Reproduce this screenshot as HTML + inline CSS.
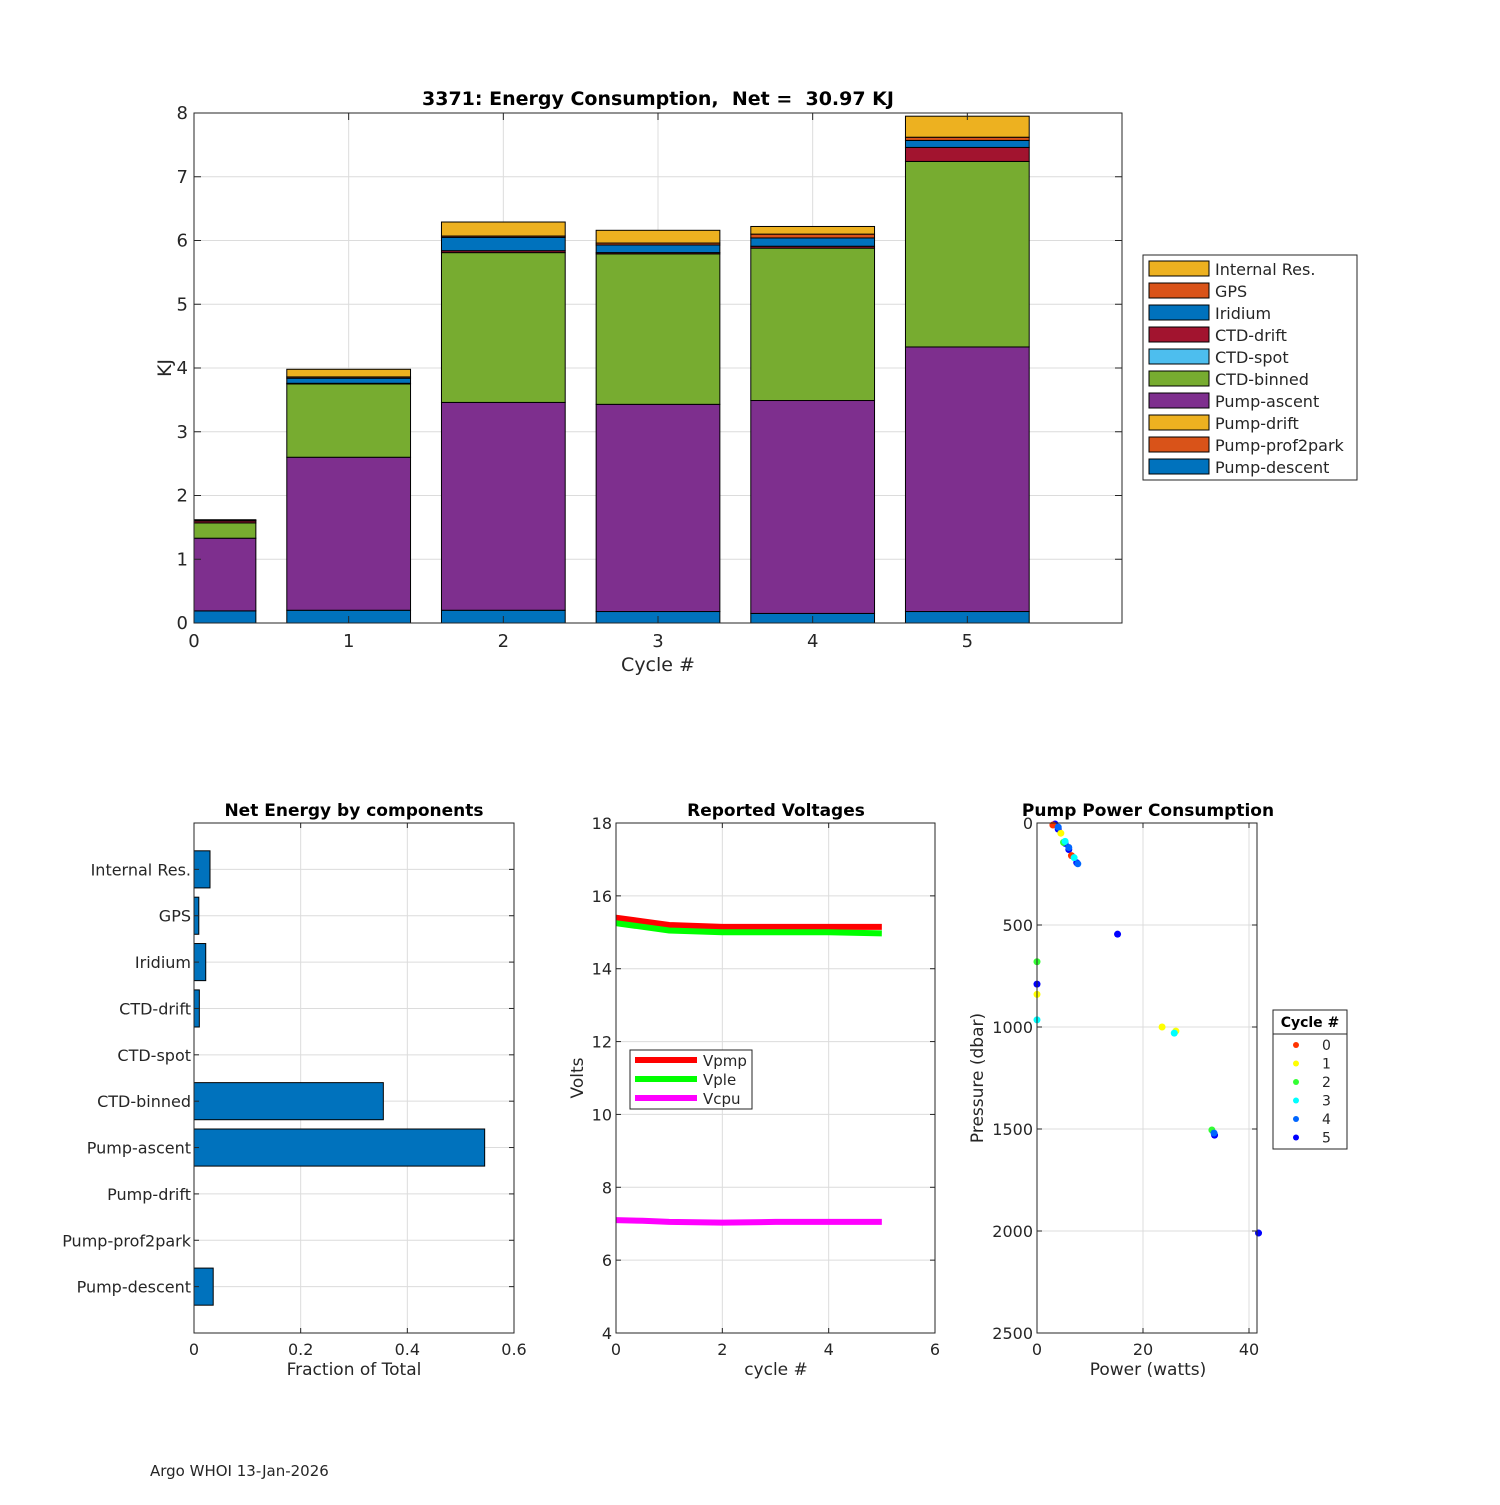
<!DOCTYPE html>
<html><head><meta charset="utf-8"><style>
body{margin:0;background:#fff}
svg text{font-family:"DejaVu Sans","Liberation Sans",sans-serif;fill:#262626;white-space:pre}
</style></head><body>
<svg id="s" width="1500" height="1500" viewBox="0 0 1500 1500" xmlns="http://www.w3.org/2000/svg">
<rect width="1500" height="1500" fill="#fff"/>
<g id="top"></g>
<g id="bl"></g>
<g id="bm"></g>
<g id="br"></g>
<text x="150" y="1476" font-size="15">Argo WHOI 13-Jan-2026</text>
</svg>
<script>
const components=["Pump-descent","Pump-prof2park","Pump-drift","Pump-ascent","CTD-binned","CTD-spot","CTD-drift","Iridium","GPS","Internal Res."];
const compColors=["#0072bd","#d95319","#edb120","#7e2f8e","#77ac30","#4dbeee","#a2142f","#0072bd","#d95319","#edb120"];
const cycles=[0,1,2,3,4,5];
const pumpDescent=[0.19,0.2,0.2,0.18,0.15,0.18];
const pumpProf2park=[0,0,0,0,0,0];
const pumpDrift=[0,0,0,0,0,0];
const pumpAscent=[1.14,2.4,3.26,3.25,3.34,4.15];
const ctdBinned=[0.24,1.15,2.35,2.36,2.39,2.91];
const ctdSpot=[0,0,0,0,0,0];
const ctdDrift=[0.03,0.01,0.03,0.02,0.03,0.22];
const iridium=[0.0,0.08,0.21,0.12,0.13,0.11];
const gps=[0.01,0.02,0.02,0.03,0.06,0.05];
const internalRes=[0.01,0.12,0.22,0.20,0.12,0.33];
const netFraction=[0.036,0,0,0.545,0.355,0,0.01,0.022,0.009,0.03];
const voltX=[0,0.5,1,2,3,4,5];
const vpmp=[15.4,15.3,15.2,15.15,15.15,15.15,15.15];
const vple=[15.25,15.15,15.05,15.0,15.0,15.0,14.97];
const vcpu=[7.1,7.08,7.05,7.03,7.05,7.05,7.05];
const pumpCycle=[5,5,5,5,5,5,5,5,5,0,0,1,1,1,1,2,2,2,3,3,3,3,4,4,4,4];
const pumpPower=[3.4,4,5.3,6,7.5,15.2,0,33.5,41.8,3,6.5,4.5,0,23.6,26.2,5,0,33,5.3,7,0,25.9,4,6,7.7,33.4];
const pumpPressure=[5,30,100,130,195,545,790,1530,2010,10,160,50,840,1000,1020,95,680,1505,90,170,965,1030,20,120,200,1520];
const cycleColors=["#ff3300","#ffff00","#33ff33","#00ffff","#0066ff","#0000ff"];

const NS="http://www.w3.org/2000/svg";
function mk(p,t,a,txt){const e=document.createElementNS(NS,t);for(const k in a)e.setAttribute(k,a[k]);if(txt!==undefined)e.textContent=txt;p.appendChild(e);return e;}

(function(){
const g=document.getElementById('top');
const L=194,R=1122,T=113,B=623;
const xs=v=>L+v*(R-L)/6, ys=v=>B-v*(B-T)/8;
for(let i=1;i<6;i++){const l=mk(g,'line',{x1:xs(i),x2:xs(i),y1:T,y2:B,stroke:'#dcdcdc'});}
for(let i=1;i<8;i++){const l=mk(g,'line',{x1:L,x2:R,y1:ys(i),y2:ys(i),stroke:'#dcdcdc'});}
const series=[pumpDescent,pumpProf2park,pumpDrift,pumpAscent,ctdBinned,ctdSpot,ctdDrift,iridium,gps,internalRes];
cycles.forEach((c,ci)=>{let acc=0;
 series.forEach((s,si)=>{const v=s[ci];let x0=Math.max(xs(c-0.4),L),x1=xs(c+0.4);
  if(v>0){const r=mk(g,'rect',{x:x0,y:ys(acc+v),width:x1-x0,height:ys(acc)-ys(acc+v),fill:compColors[si],stroke:'#000','stroke-width':1});
  
  }
  acc+=v;});});
mk(g,'rect',{x:L,y:T,width:R-L,height:B-T,fill:'none',stroke:'#262626'});
for(let i=0;i<6;i++){mk(g,'line',{x1:xs(i),x2:xs(i),y1:B,y2:B-7,stroke:'#262626'});mk(g,'line',{x1:xs(i),x2:xs(i),y1:T,y2:T+7,stroke:'#262626'});
 const t=mk(g,'text',{x:xs(i),y:B+24,'font-size':18,'text-anchor':'middle'},String(i));}
for(let i=0;i<=8;i++){mk(g,'line',{x1:L,x2:L+7,y1:ys(i),y2:ys(i),stroke:'#262626'});mk(g,'line',{x1:R,x2:R-7,y1:ys(i),y2:ys(i),stroke:'#262626'});
 const t=mk(g,'text',{x:L-6,y:ys(i)+6,'font-size':18,'text-anchor':'end'},String(i));}
let t=mk(g,'text',{x:658,y:105,'font-size':19,'font-weight':'bold','text-anchor':'middle',style:'fill:#000'},'3371: Energy Consumption,  Net =  30.97 KJ');
t=mk(g,'text',{x:658,y:671,'font-size':19,'text-anchor':'middle'},'Cycle #');
t=mk(g,'text',{x:0,y:0,'font-size':19,'text-anchor':'middle',transform:'translate(171,368) rotate(-90)'},'KJ');
const lg=mk(g,'g',{});
mk(lg,'rect',{x:1143,y:255,width:214,height:225,fill:'#fff',stroke:'#262626'});
for(let k=0;k<10;k++){const si=9-k,y=261+k*22;
 const e=mk(lg,'g',{});
 mk(e,'rect',{x:1149,y:y,width:60,height:15,fill:compColors[si],stroke:'#000'});
 mk(e,'text',{x:1215,y:y+14,'font-size':16},components[si]);}
})();

(function(){
const g=document.getElementById('bl');
const L=194,R=514,T=823,B=1333;
const xs=v=>L+v*(R-L)/0.6, ys=v=>B-v*(B-T)/11;
[0.2,0.4].forEach(v=>mk(g,'line',{x1:xs(v),x2:xs(v),y1:T,y2:B,stroke:'#dcdcdc'}));
for(let i=1;i<=10;i++)mk(g,'line',{x1:L,x2:R,y1:ys(i),y2:ys(i),stroke:'#dcdcdc'});
components.forEach((c,i)=>{const v=netFraction[i];
 if(v>0){const r=mk(g,'rect',{x:L,y:ys(i+1+0.4),width:xs(v)-L,height:ys(i+1-0.4)-ys(i+1+0.4),fill:'#0072bd',stroke:'#000'});
 }
 const t=mk(g,'text',{x:L-3,y:ys(i+1)+6,'font-size':16,'text-anchor':'end'},c);
 mk(g,'line',{x1:L,x2:L+5,y1:ys(i+1),y2:ys(i+1),stroke:'#262626'});mk(g,'line',{x1:R,x2:R-5,y1:ys(i+1),y2:ys(i+1),stroke:'#262626'});});
mk(g,'rect',{x:L,y:T,width:R-L,height:B-T,fill:'none',stroke:'#262626'});
[0,0.2,0.4,0.6].forEach(v=>{mk(g,'line',{x1:xs(v),x2:xs(v),y1:B,y2:B-5,stroke:'#262626'});mk(g,'line',{x1:xs(v),x2:xs(v),y1:T,y2:T+5,stroke:'#262626'});
 const t=mk(g,'text',{x:xs(v),y:B+22,'font-size':16,'text-anchor':'middle'},String(v));});
let t=mk(g,'text',{x:354,y:816,'font-size':17,'font-weight':'bold','text-anchor':'middle',style:'fill:#000'},'Net Energy by components');
t=mk(g,'text',{x:354,y:1375,'font-size':17,'text-anchor':'middle'},'Fraction of Total');
})();

(function(){
const g=document.getElementById('bm');
const L=616,R=935,T=823,B=1333;
const xs=v=>L+v*(R-L)/6, ys=v=>B-(v-4)*(B-T)/14;
[2,4].forEach(v=>mk(g,'line',{x1:xs(v),x2:xs(v),y1:T,y2:B,stroke:'#dcdcdc'}));
[6,8,10,12,14,16].forEach(v=>mk(g,'line',{x1:L,x2:R,y1:ys(v),y2:ys(v),stroke:'#dcdcdc'}));
const S=[[vpmp,'#ff0000','line-vpmp'],[vple,'#00ff00','line-vple'],[vcpu,'#ff00ff','line-vcpu']];
S.forEach(([arr,col,nm])=>{const p=mk(g,'polyline',{points:voltX.map((x,i)=>xs(x)+','+ys(arr[i])).join(' '),fill:'none',stroke:col,'stroke-width':6});
 });
mk(g,'rect',{x:L,y:T,width:R-L,height:B-T,fill:'none',stroke:'#262626'});
[0,2,4,6].forEach(v=>{mk(g,'line',{x1:xs(v),x2:xs(v),y1:B,y2:B-5,stroke:'#262626'});mk(g,'line',{x1:xs(v),x2:xs(v),y1:T,y2:T+5,stroke:'#262626'});
 const t=mk(g,'text',{x:xs(v),y:B+22,'font-size':16,'text-anchor':'middle'},String(v));});
[4,6,8,10,12,14,16,18].forEach(v=>{mk(g,'line',{x1:L,x2:L+5,y1:ys(v),y2:ys(v),stroke:'#262626'});mk(g,'line',{x1:R,x2:R-5,y1:ys(v),y2:ys(v),stroke:'#262626'});
 const t=mk(g,'text',{x:L-4,y:ys(v)+6,'font-size':16,'text-anchor':'end'},String(v));});
let t=mk(g,'text',{x:776,y:816,'font-size':17,'font-weight':'bold','text-anchor':'middle',style:'fill:#000'},'Reported Voltages');
t=mk(g,'text',{x:776,y:1375,'font-size':17,'text-anchor':'middle'},'cycle #');
t=mk(g,'text',{x:0,y:0,'font-size':17,'text-anchor':'middle',transform:'translate(583,1078) rotate(-90)'},'Volts');
const lg=mk(g,'g',{});
mk(lg,'rect',{x:630,y:1050,width:122,height:59,fill:'#fff',stroke:'#262626'});
['Vpmp','Vple','Vcpu'].forEach((n,i)=>{const e=mk(lg,'g',{});
 mk(e,'line',{x1:635,x2:697,y1:1060+i*19,y2:1060+i*19,stroke:S[i][1],'stroke-width':6});
 mk(e,'text',{x:703,y:1066+i*19,'font-size':15},n);});
})();

(function(){
const g=document.getElementById('br');
const L=1037,R=1257,T=823,B=1333;
const xs=v=>L+v*5.3, ys=v=>T+v*(B-T)/2500;
[20,40].forEach(v=>mk(g,'line',{x1:xs(v),x2:xs(v),y1:T,y2:B,stroke:'#dcdcdc'}));
[500,1000,1500,2000].forEach(v=>mk(g,'line',{x1:L,x2:R,y1:ys(v),y2:ys(v),stroke:'#dcdcdc'}));
pumpPower.forEach((p,i)=>{const c=mk(g,'circle',{cx:xs(p),cy:ys(pumpPressure[i]),r:3.5,fill:cycleColors[pumpCycle[i]]});
 });
mk(g,'rect',{x:L,y:T,width:R-L,height:B-T,fill:'none',stroke:'#262626'});
[0,20,40].forEach(v=>{mk(g,'line',{x1:xs(v),x2:xs(v),y1:B,y2:B-5,stroke:'#262626'});mk(g,'line',{x1:xs(v),x2:xs(v),y1:T,y2:T+5,stroke:'#262626'});
 const t=mk(g,'text',{x:xs(v),y:B+22,'font-size':16,'text-anchor':'middle'},String(v));});
[0,500,1000,1500,2000,2500].forEach(v=>{mk(g,'line',{x1:L,x2:L+5,y1:ys(v),y2:ys(v),stroke:'#262626'});mk(g,'line',{x1:R,x2:R-5,y1:ys(v),y2:ys(v),stroke:'#262626'});
 const t=mk(g,'text',{x:L-4,y:ys(v)+6,'font-size':16,'text-anchor':'end'},String(v));});
let t=mk(g,'text',{x:1148,y:816,'font-size':17,'font-weight':'bold','text-anchor':'middle',style:'fill:#000'},'Pump Power Consumption');
t=mk(g,'text',{x:1148,y:1375,'font-size':17,'text-anchor':'middle'},'Power (watts)');
t=mk(g,'text',{x:0,y:0,'font-size':17,'text-anchor':'middle',transform:'translate(983,1078) rotate(-90)'},'Pressure (dbar)');
const lg=mk(g,'g',{});
mk(lg,'rect',{x:1273,y:1010,width:74,height:139,fill:'#fff',stroke:'#262626'});
mk(lg,'line',{x1:1273,x2:1347,y1:1034,y2:1034,stroke:'#262626'});
mk(lg,'text',{x:1310,y:1027,'font-size':14,'font-weight':'bold','text-anchor':'middle',style:'fill:#000'},'Cycle #');
cycles.forEach((c,i)=>{const e=mk(lg,'g',{});
 mk(e,'circle',{cx:1296,cy:1045+i*18.5,r:3,fill:cycleColors[i]});
 mk(e,'text',{x:1322,y:1050+i*18.5,'font-size':14},String(c));});
})();
</script>
</body></html>
